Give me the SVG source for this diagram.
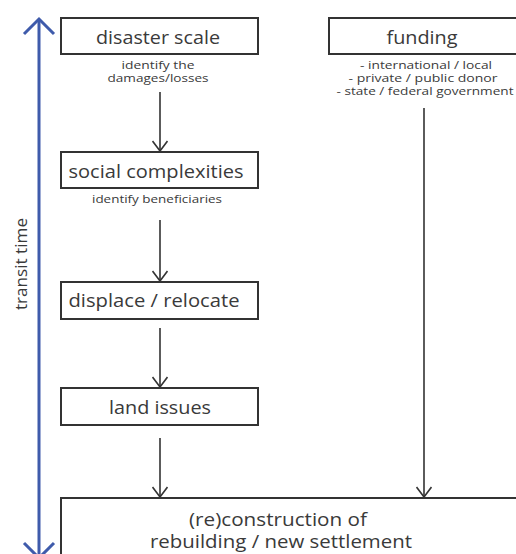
<svg xmlns="http://www.w3.org/2000/svg" width="516" height="554" viewBox="0 0 516 554">
  <style>
    .box { fill: #ffffff; stroke: #333333; stroke-width: 2; }
    .title { font-family: "Open Sans", "Liberation Sans", sans-serif; font-size: 18px; fill: #3a3a3a; text-anchor: middle; }
    .note { font-family: "Open Sans", "Liberation Sans", sans-serif; font-size: 10.5px; fill: #3a3a3a; text-anchor: middle; }
    .link { stroke: #333333; stroke-width: 1.6; fill: none; marker-end: url(#head); }
    .axis { stroke: #3f5bab; stroke-width: 3; fill: none; }
  </style>
  <defs>
    <!-- open V arrowhead, drawn pointing along +x so orient="auto" turns it with the line -->
    <marker id="head" viewBox="0 0 12 16" refX="11" refY="8" markerWidth="12" markerHeight="16" markerUnits="userSpaceOnUse" orient="auto">
      <path d="M1,0.5 L11,8 L1,15.5" fill="none" stroke="#333333" stroke-width="1.6"/>
    </marker>
  </defs>

  <rect width="516" height="554" fill="#ffffff"/>

  <!-- time axis -->
  <g id="time-axis">
    <line class="axis" x1="39" y1="20" x2="39" y2="554"/>
    <path class="axis" d="M24,34 L39,19 L54,34"/>
    <path class="axis" d="M24,543 L39,558 L54,543"/>
    <text transform="translate(27,264) rotate(-90)" font-family="'Open Sans', 'Liberation Sans', sans-serif" font-size="17" fill="#3a3a3a" text-anchor="middle" textLength="92" lengthAdjust="spacingAndGlyphs">transit time</text>
  </g>

  <!-- connectors -->
  <g id="connectors">
    <line class="link" x1="160" y1="92" x2="160" y2="151"/>
    <line class="link" x1="160" y1="220" x2="160" y2="281"/>
    <line class="link" x1="160" y1="328" x2="160" y2="387"/>
    <line class="link" x1="160" y1="438" x2="160" y2="497"/>
    <line class="link" x1="424" y1="108" x2="424" y2="497"/>
  </g>

  <g id="disaster-scale">
    <rect class="box" x="61" y="18" width="197" height="36"/>
    <text class="title" x="158" y="44" textLength="124" lengthAdjust="spacingAndGlyphs">disaster scale</text>
    <text class="note" x="158" y="69" textLength="73" lengthAdjust="spacingAndGlyphs">identify the</text>
    <text class="note" x="158" y="82" textLength="101" lengthAdjust="spacingAndGlyphs">damages/losses</text>
  </g>

  <g id="funding">
    <rect class="box" x="329" y="18" width="200" height="36"/>
    <text class="title" x="422" y="44" textLength="71" lengthAdjust="spacingAndGlyphs">funding</text>
    <text class="note" x="426" y="69" textLength="132" lengthAdjust="spacingAndGlyphs">- international / local</text>
    <text class="note" x="423" y="82" textLength="149" lengthAdjust="spacingAndGlyphs">- private / public donor</text>
    <text class="note" x="425" y="95" textLength="177" lengthAdjust="spacingAndGlyphs">- state / federal government</text>
  </g>

  <g id="social-complexities">
    <rect class="box" x="61" y="152" width="197" height="36"/>
    <text class="title" x="156" y="178" textLength="175" lengthAdjust="spacingAndGlyphs">social complexities</text>
    <text class="note" x="157" y="203" textLength="130" lengthAdjust="spacingAndGlyphs">identify beneficiaries</text>
  </g>

  <g id="displace-relocate">
    <rect class="box" x="61" y="282" width="197" height="37"/>
    <text class="title" x="154" y="307" textLength="171" lengthAdjust="spacingAndGlyphs">displace / relocate</text>
  </g>

  <g id="land-issues">
    <rect class="box" x="61" y="388" width="197" height="37"/>
    <text class="title" x="160" y="414" textLength="102" lengthAdjust="spacingAndGlyphs">land issues</text>
  </g>

  <g id="reconstruction">
    <rect class="box" x="61" y="498" width="470" height="70"/>
    <text class="title" x="278" y="526" textLength="178" lengthAdjust="spacingAndGlyphs">(re)construction of</text>
    <text class="title" x="281" y="548" textLength="262" lengthAdjust="spacingAndGlyphs">rebuilding / new settlement</text>
  </g>
</svg>
